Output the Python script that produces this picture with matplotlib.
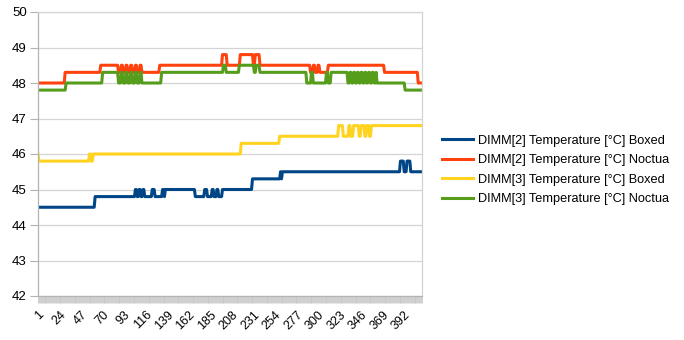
import numpy as np
from matplotlib import pyplot as plt

plt.rcParams['font.family'] = ['Liberation Sans', 'DejaVu Sans']

# number of samples on the category axis
n_samples = 411
tick_labels = [str(v) for v in range(1, 393, 23)]

series_names = [
    'DIMM[2] Temperature [°C] Boxed',
    'DIMM[2] Temperature [°C] Noctua',
    'DIMM[3] Temperature [°C] Boxed',
    'DIMM[3] Temperature [°C] Noctua',
]
series_colors = ['#004586', '#ff420e', '#ffd320', '#579d1c']

# (first sample, value) pairs; each value holds until the next pair
dimm2_boxed = [(1, 44.5), (62, 44.8), (105, 45.0), (107, 44.8), (109, 45.0), (111, 44.8),
               (113, 45.0), (115, 44.8), (123, 45.0), (126, 44.8), (134, 45.0), (136, 44.8),
               (137, 45.0), (169, 44.8), (179, 45.0), (182, 44.8), (187, 45.0), (189, 44.8),
               (192, 45.0), (194, 44.8), (198, 45.0), (230, 45.3), (260, 45.5), (261, 45.3),
               (262, 45.5), (388, 45.8), (392, 45.5), (395, 45.8), (399, 45.5)]

dimm2_noctua = [(1, 48.0), (30, 48.3), (68, 48.5), (87, 48.3), (90, 48.5), (92, 48.3),
                (95, 48.5), (97, 48.3), (100, 48.5), (102, 48.3), (105, 48.5), (107, 48.3),
                (110, 48.5), (112, 48.3), (131, 48.5), (198, 48.8), (203, 48.5), (217, 48.8),
                (231, 48.5), (233, 48.8), (238, 48.5), (292, 48.3), (295, 48.5), (297, 48.3),
                (300, 48.5), (302, 48.3), (311, 48.5), (371, 48.3), (407, 48.0)]

dimm3_boxed = [(1, 46.0), (2, 45.8), (56, 46.0), (58, 45.8), (60, 46.0), (218, 46.3),
               (259, 46.5), (322, 46.8), (327, 46.5), (333, 46.8), (335, 46.5), (338, 46.8),
               (344, 46.5), (346, 46.8), (350, 46.5), (352, 46.8), (355, 46.5), (357, 46.8)]

dimm3_noctua = [(1, 47.8), (31, 48.0), (70, 48.3), (87, 48.0), (90, 48.3), (92, 48.0),
                (95, 48.3), (97, 48.0), (100, 48.3), (102, 48.0), (105, 48.3), (107, 48.0),
                (110, 48.3), (112, 48.0), (133, 48.3), (199, 48.5), (202, 48.3), (216, 48.5),
                (232, 48.3), (234, 48.5), (238, 48.3), (288, 48.0), (293, 48.3), (295, 48.0),
                (309, 48.3), (311, 48.0), (314, 48.3), (332, 48.0), (334, 48.3), (336, 48.0),
                (338, 48.3), (340, 48.0), (342, 48.3), (344, 48.0), (346, 48.3), (348, 48.0),
                (350, 48.3), (352, 48.0), (354, 48.3), (356, 48.0), (358, 48.3), (360, 48.0),
                (362, 48.3), (363, 48.0), (393, 47.8)]


def expand(steps):
    """turn the (start, value) pairs into one value per sample"""
    values = np.empty(n_samples)
    for i, (start, val) in enumerate(steps):
        end = steps[i + 1][0] if i + 1 < len(steps) else n_samples + 1
        values[start - 1:end - 1] = val
    return values


x = np.arange(1, n_samples + 1)
all_series = [dimm2_boxed, dimm2_noctua, dimm3_boxed, dimm3_noctua]

fig = plt.figure(figsize=(6.84, 3.4), dpi=100)
ax = fig.add_axes([38 / 684, 1 - 296 / 340, 384 / 684, 284 / 340])

for steps, name, color in zip(all_series, series_names, series_colors):
    ax.plot(x, expand(steps), color=color, linewidth=2.2, label=name)

ax.set_xlim(1, n_samples)
ax.set_ylim(42, 50)
ax.set_yticks(range(42, 51))
ax.yaxis.grid(True, color='#d4d4d4', linewidth=0.9)
ax.set_axisbelow(True)

# every sample gets a tick, only every 23rd one a label
ax.set_xticks(x)
ax.set_xticklabels([v if v in tick_labels else '' for v in map(str, x)],
                   rotation=45, ha='right', rotation_mode='anchor', fontsize=9)
ax.tick_params(axis='x', length=5, width=0.6, color='#c8c8c8', pad=4)
ax.tick_params(axis='y', length=6, width=0.8, color='#b3b3b3', labelsize=9.5, pad=2)

for side in ['top', 'right']:
    ax.spines[side].set_color('#d4d4d4')
    ax.spines[side].set_linewidth(0.9)
for side in ['left', 'bottom']:
    ax.spines[side].set_color('#b3b3b3')
    ax.spines[side].set_linewidth(0.9)

fig.legend(loc='center left', bbox_to_anchor=(437 / 684, 1 - 170 / 340),
           frameon=False, fontsize=9.2, handlelength=2.4, handletextpad=0.4,
           labelspacing=0.58, borderaxespad=0)

fig.savefig('out.png', dpi=100)
